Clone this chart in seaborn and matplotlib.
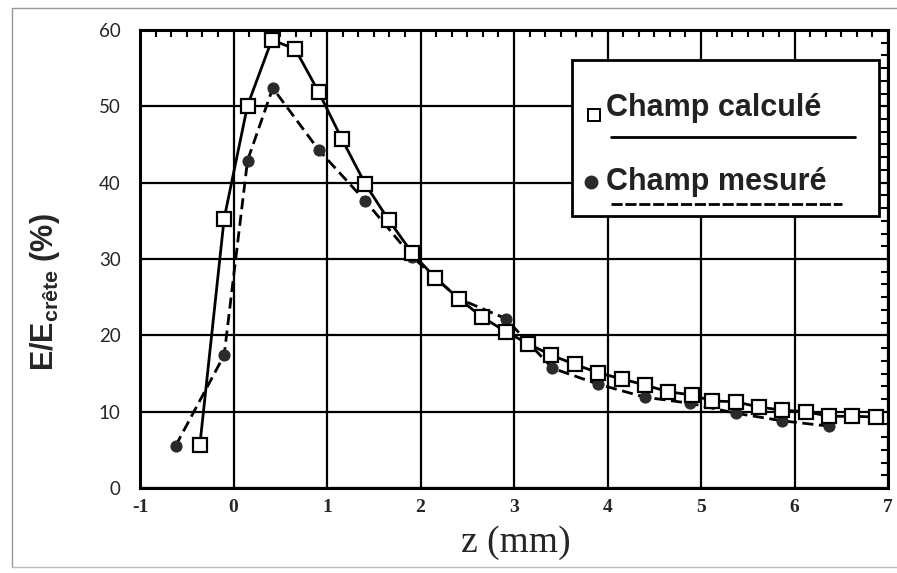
import numpy as np
import pandas as pd
import matplotlib
matplotlib.use("Agg")
import matplotlib.pyplot as plt
import seaborn as sns
from matplotlib.ticker import MultipleLocator
from matplotlib.lines import Line2D
from matplotlib.patches import Rectangle

# ---- data ----
z_calc = [-0.36, -0.10, 0.15, 0.41, 0.66, 0.91, 1.16, 1.41, 1.66, 1.91,
          2.16, 2.41, 2.66, 2.91, 3.15, 3.40, 3.65, 3.90, 4.15, 4.40,
          4.65, 4.90, 5.12, 5.37, 5.62, 5.87, 6.12, 6.37, 6.62, 6.87]
e_calc = [5.6, 35.3, 50.1, 58.7, 57.5, 51.9, 45.7, 39.8, 35.1, 30.8,
          27.5, 24.8, 22.4, 20.5, 18.9, 17.4, 16.2, 15.1, 14.3, 13.5,
          12.6, 12.2, 11.4, 11.3, 10.6, 10.2, 10.0, 9.4, 9.4, 9.3]
z_mes = [-0.62, -0.10, 0.15, 0.42, 0.91, 1.41, 1.91, 2.41, 2.91, 3.41,
         3.90, 4.40, 4.88, 5.37, 5.87, 6.37]
e_mes = [5.5, 17.4, 42.9, 52.4, 44.3, 37.6, 30.3, 24.8, 22.2, 15.7,
         13.6, 11.9, 11.1, 9.8, 8.8, 8.1]
x_ticks = [-1, 0, 1, 2, 3, 4, 5, 6, 7]
y_ticks = [0, 10, 20, 30, 40, 50, 60]
label_calc = "Champ calculé"
label_mes = "Champ mesuré"

sns.set_style("white")
plt.rcParams["axes.unicode_minus"] = False
plt.rcParams["mathtext.fontset"] = "custom"
plt.rcParams["mathtext.rm"] = "Liberation Sans:bold"
plt.rcParams["mathtext.bf"] = "Liberation Sans:bold"
plt.rcParams["mathtext.it"] = "Liberation Sans:bold"

df_calc = pd.DataFrame({"z": z_calc, "E": e_calc})
df_mes = pd.DataFrame({"z": z_mes, "E": e_mes})

fig = plt.figure(figsize=(8.97, 5.73), dpi=100)
ax = fig.add_axes([140 / 897, 1 - 488 / 573, 748 / 897, 458 / 573])

sns.lineplot(data=df_calc, x="z", y="E", ax=ax, sort=False, color="black",
             lw=2.0, marker="s", markersize=9.5, markerfacecolor="white",
             markeredgecolor="black", markeredgewidth=1.6, zorder=4,
             clip_on=False)
sns.lineplot(data=df_mes, x="z", y="E", ax=ax, sort=False, color="black",
             lw=2.0, linestyle=(0, (4, 2)), marker="o", markersize=8,
             markerfacecolor="#2a2a2a", markeredgecolor="#2a2a2a", zorder=3,
             clip_on=False)

ax.set_xlim(-1, 7)
ax.set_ylim(0, 60)
ax.set_xticks(x_ticks)
ax.set_yticks(y_ticks)
ax.xaxis.set_minor_locator(MultipleLocator(1 / 6))
ax.yaxis.set_minor_locator(MultipleLocator(10 / 6))
ax.grid(True, which="major", color="black", lw=1.6)
ax.set_axisbelow(True)
ax.tick_params(which="both", direction="in", top=True, right=True,
               color="black")
ax.tick_params(which="major", length=0)
ax.tick_params(which="minor", length=5, width=1.5)
for s in ax.spines.values():
    s.set_linewidth(2.2)
    s.set_color("black")
    s.set_visible(True)

for lab in ax.get_xticklabels():
    lab.set_fontfamily("Liberation Serif")
    lab.set_fontweight("bold")
    lab.set_fontsize(14)
for lab in ax.get_yticklabels():
    lab.set_fontfamily("Lato")
    lab.set_fontsize(13.5)
ax.tick_params(axis="x", pad=8)
ax.tick_params(axis="y", pad=14)

ax.set_xlabel("")
ax.set_ylabel("")
fig.text(516 / 897, 1 - 543 / 573, "z (mm)", family="Liberation Serif",
         fontsize=27, ha="center", va="center")
fig.text(45 / 897, 1 - 292 / 573, r"E/E$_{\mathrm{crête}}$ (%)",
         family="Liberation Sans", fontweight="bold", fontsize=22,
         rotation=90, ha="center", va="center")

# ---- custom legend box ----
ax.add_patch(Rectangle((0.578, 0.594), 0.410, 0.340, transform=ax.transAxes,
                       facecolor="white", edgecolor="black", lw=2.0,
                       zorder=6))
ax.add_line(Line2D([0.607], [0.815], transform=ax.transAxes, marker="s",
                   markersize=9, markerfacecolor="white",
                   markeredgecolor="black", markeredgewidth=1.4, zorder=7))
ax.text(0.623, 0.830, label_calc, transform=ax.transAxes,
        family="Liberation Sans", fontweight="bold", fontsize=22,
        va="center", ha="left", zorder=7, color="#222222")
ax.add_line(Line2D([0.630, 0.956], [0.766, 0.766], transform=ax.transAxes,
                   color="black", lw=2.0, zorder=7))
ax.add_line(Line2D([0.603], [0.668], transform=ax.transAxes, marker="o",
                   markersize=9, markerfacecolor="#2a2a2a",
                   markeredgecolor="#2a2a2a", zorder=7))
ax.text(0.623, 0.668, label_mes, transform=ax.transAxes,
        family="Liberation Sans", fontweight="bold", fontsize=22,
        va="center", ha="left", zorder=7, color="#222222")
ax.add_line(Line2D([0.630, 0.938], [0.620, 0.620], transform=ax.transAxes,
                   color="black", lw=2.0, linestyle=(0, (4, 1)), zorder=7))

# faint scan border
fig.add_artist(Line2D([12 / 897, 12 / 897], [1 - 8 / 573, 1 - 567 / 573],
                      transform=fig.transFigure, color="#999999", lw=1))
fig.add_artist(Line2D([12 / 897, 1], [1 - 8 / 573, 1 - 8 / 573],
                      transform=fig.transFigure, color="#999999", lw=1))
fig.add_artist(Line2D([12 / 897, 1], [1 - 567 / 573, 1 - 567 / 573],
                      transform=fig.transFigure, color="#bbbbbb", lw=1))

fig.savefig("out.png", dpi=100)
